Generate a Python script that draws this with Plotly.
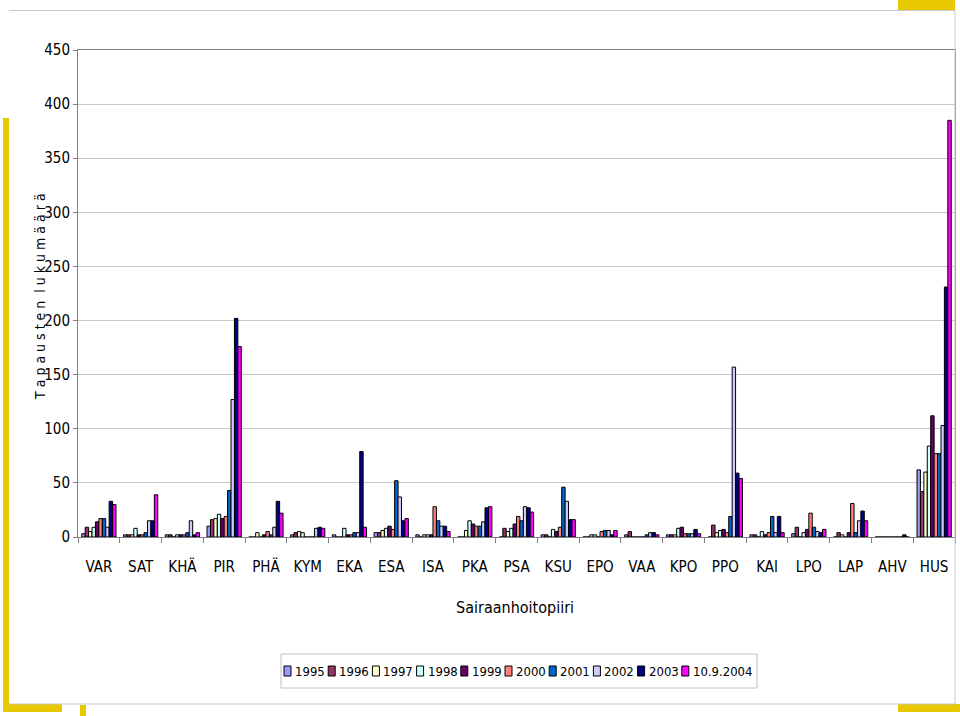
import plotly.graph_objects as go

categories = ["VAR", "SAT", "KHÄ", "PIR", "PHÄ", "KYM", "EKA", "ESA", "ISA", "PKA", "PSA",
              "KSU", "EPO", "VAA", "KPO", "PPO", "KAI", "LPO", "LAP", "AHV", "HUS"]
series_names = ["1995", "1996", "1997", "1998", "1999", "2000", "2001", "2002", "2003", "10.9.2004"]

# values per district, in series order 1995..2004
VAR = [3, 9, 5, 9, 14, 17, 17, 9, 33, 30]
SAT = [2, 2, 2, 8, 2, 2, 4, 15, 15, 39]
KHA = [2, 2, 0, 2, 2, 2, 4, 15, 2, 4]
PIR = [10, 16, 17, 21, 17, 19, 43, 127, 202, 176]
PHA = [0, 0, 4, 0, 2, 5, 2, 9, 33, 22]
KYM = [2, 4, 5, 4, 0, 0, 0, 8, 9, 8]
EKA = [2, 0, 0, 8, 2, 2, 4, 4, 79, 9]
ESA = [4, 4, 6, 8, 10, 7, 52, 37, 15, 17]
ISA = [2, 0, 2, 2, 2, 28, 15, 10, 10, 5]
PKA = [0, 0, 6, 15, 12, 10, 10, 14, 27, 28]
PSA = [0, 8, 5, 8, 12, 19, 15, 28, 27, 23]
KSU = [2, 2, 0, 7, 5, 9, 46, 33, 16, 16]
EPO = [0, 0, 2, 2, 0, 5, 6, 6, 2, 6]
VAA = [2, 5, 0, 0, 0, 0, 2, 4, 4, 2]
KPO = [2, 2, 2, 8, 9, 3, 3, 3, 7, 3]
PPO = [0, 11, 4, 6, 7, 4, 19, 157, 59, 54]
KAI = [2, 2, 0, 5, 2, 4, 19, 4, 19, 4]
LPO = [3, 9, 0, 4, 7, 22, 9, 5, 4, 7]
LAP = [0, 4, 2, 0, 4, 31, 4, 15, 24, 15]
AHV = [0, 0, 0, 0, 0, 0, 0, 0, 2, 0]
HUS = [62, 42, 60, 84, 112, 77, 77, 103, 231, 385]

district_values = [VAR, SAT, KHA, PIR, PHA, KYM, EKA, ESA, ISA, PKA, PSA,
                   KSU, EPO, VAA, KPO, PPO, KAI, LPO, LAP, AHV, HUS]

colors = ["#9999FF", "#993366", "#FFFFCC", "#CCFFFF", "#660066",
          "#FF8080", "#0066CC", "#CCCCFF", "#000080", "#FF00FF"]

FONT = "DejaVu Sans Condensed, Liberation Sans Narrow, Arial Narrow, Liberation Sans, Arial, sans-serif"

fig = go.Figure()
for s, name in enumerate(series_names):
    fig.add_trace(go.Bar(
        x=categories,
        y=[d[s] for d in district_values],
        name=name,
        marker=dict(color=colors[s], line=dict(color="#000000", width=1)),
        showlegend=False,
    ))

L, R, T, B = 78, 5, 50, 179
W, H = 960, 716
pw, ph = W - L - R, H - T - B

def px(x):
    return (x - L) / pw

def py(y):
    return (H - B - y) / ph

shapes = []
annotations = []
yellow = "#E8C800"

def rect(x0, y0, x1, y1, color, linecolor=None, layer="below"):
    return dict(type="rect", xref="paper", yref="paper",
                x0=px(x0), x1=px(x1), y0=py(y1), y1=py(y0),
                fillcolor=color,
                line=dict(width=1 if linecolor else 0, color=linecolor or color),
                layer=layer)

def hline(x0, x1, y, color="#C8C8C8"):
    return dict(type="line", xref="paper", yref="paper",
                x0=px(x0), x1=px(x1), y0=py(y), y1=py(y), line=dict(color=color, width=1))

def vline(x, y0, y1, color="#C8C8C8"):
    return dict(type="line", xref="paper", yref="paper",
                x0=px(x), x1=px(x), y0=py(y0), y1=py(y1), line=dict(color=color, width=1))

# decorative slide frame
shapes += [
    hline(9, 955, 10.5),
    vline(955, 10, 704),
    hline(9, 955, 704),
    rect(898, 0, 955, 10, yellow),
    rect(3, 118, 9, 712, yellow),
    rect(3, 704, 62, 712, yellow),
    rect(80, 705, 86, 716, yellow),
    rect(898, 704, 960, 712, yellow),
]

# legend box (drawn manually to keep the compact spacing of the original)
shapes.append(rect(281, 654, 757, 688, "white", linecolor="#C0C0C0", layer="above"))
leg_x0, leg_step, leg_y = 284, 44.2, 671
for i, name in enumerate(series_names):
    x0 = leg_x0 + leg_step * i
    shapes.append(rect(x0, leg_y - 5, x0 + 7, leg_y + 5, colors[i], linecolor="#000000", layer="above"))
    annotations.append(dict(text=name, xref="paper", yref="paper", x=px(x0 + 9), y=py(leg_y),
                            xanchor="left", yanchor="middle", showarrow=False,
                            font=dict(family=FONT, size=13, color="black")))

annotations += [
    dict(text="T a p a u s t e n  l u k u m ä ä r ä", xref="paper", yref="paper",
         x=px(40), y=py(297), textangle=-90, showarrow=False,
         font=dict(family=FONT, size=14, color="black"), xanchor="center", yanchor="middle"),
    dict(text="Sairaanhoitopiiri", xref="paper", yref="paper",
         x=px(515), y=py(607), showarrow=False,
         font=dict(family=FONT, size=16, color="black"), xanchor="center", yanchor="middle"),
]

fig.update_layout(
    width=W, height=H,
    margin=dict(l=L, r=R, t=T, b=B, autoexpand=False),
    paper_bgcolor="white",
    plot_bgcolor="white",
    barmode="group",
    bargap=0.18,
    bargroupgap=0,
    font=dict(family=FONT, size=16, color="black"),
    showlegend=False,
    shapes=shapes,
    annotations=annotations,
)

fig.update_xaxes(
    showline=True, linecolor="#808080", linewidth=1, mirror=True,
    ticks="outside", tickson="boundaries", ticklen=5, tickcolor="#808080",
    tickfont=dict(family=FONT, size=15, color="black"),
    tickangle=0, automargin=False, ticklabelstandoff=16,
    showgrid=False,
)
fig.update_yaxes(
    range=[0, 450], dtick=50,
    showline=True, linecolor="#808080", linewidth=1, mirror=True,
    ticks="outside", ticklen=4, tickcolor="#808080",
    gridcolor="#C8C8C8", gridwidth=1,
    tickfont=dict(family=FONT, size=15, color="black"),
    automargin=False,
    zeroline=False,
)

fig.write_html("out.html", config={"displayModeBar": False},
               post_script="document.body.style.margin='0';document.body.style.overflow='hidden';")
